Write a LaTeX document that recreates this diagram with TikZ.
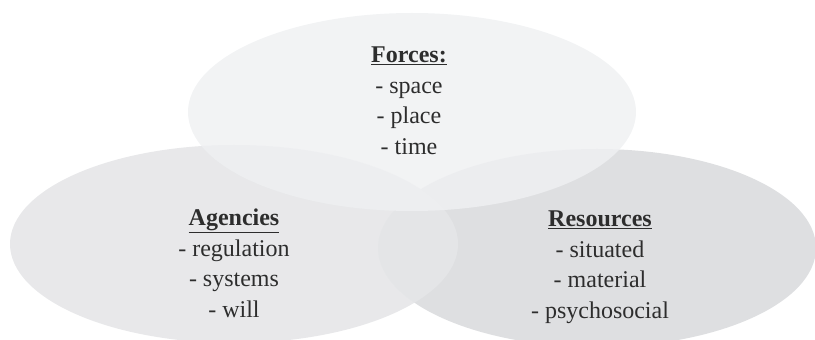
\documentclass[tikz,border=0pt]{standalone}
\usepackage{fontspec}
\setmainfont{Liberation Serif}
\usetikzlibrary{shapes.geometric}
\definecolor{forcegray}{RGB}{239, 240, 242}
\definecolor{agencygray}{RGB}{229, 230, 232}
\definecolor{resourcegray}{RGB}{222, 223, 225}
\definecolor{textgray}{RGB}{45, 45, 45}
\tikzset{
  venn/.style={ellipse, minimum width=448pt, minimum height=198pt, inner sep=0pt},
  itemlist/.style={align=center, anchor=north, inner sep=0pt, text=textgray,
    font=\fontsize{24}{30.5}\selectfont}
}
\newcommand{\heading}[1]{\underline{\textbf{#1}}}

\begin{document}
\begin{tikzpicture}[x=1pt, y=1pt]
  \useasboundingbox (0, 0) rectangle (815, 340);

  % The three circles
  \node[venn, fill=resourcegray, minimum width=438pt] (resources) at (597, 92) {};
  \node[venn, fill=agencygray, fill opacity=0.9] (agencies) at (234, 96) {};
  \node[venn, fill=forcegray, fill opacity=0.83] (forces) at (412, 228) {};

  % Labels
  \node[itemlist] (forcestext) at (409, 293) {
    \heading{Forces:}\\
    - space\\
    - place\\
    - time
  };
  \node[itemlist] (agenciestext) at (234, 131) {
    \heading{Agencies}\\
    - regulation\\
    - systems\\
    - will
  };
  \node[itemlist] (resourcestext) at (600, 129) {
    \heading{Resources}\\
    - situated\\
    - material\\
    - psychosocial
  };
\end{tikzpicture}
\end{document}
